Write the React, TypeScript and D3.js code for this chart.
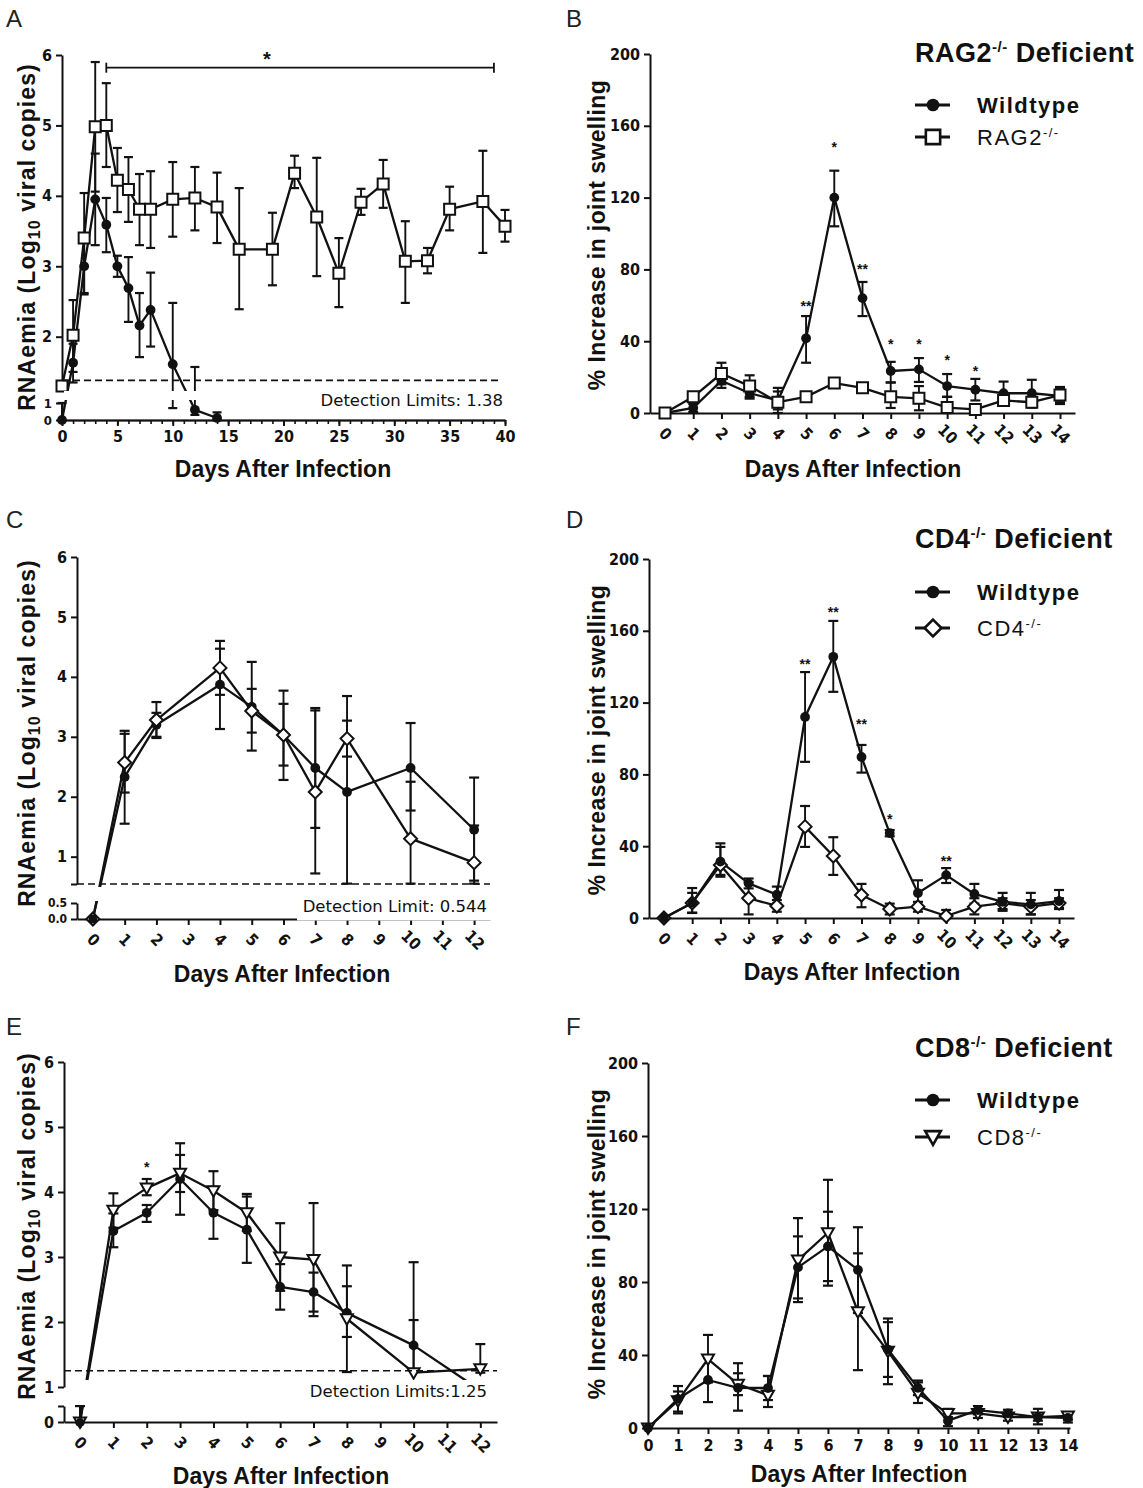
import React, { useEffect, useRef } from "react";
import * as d3 from "d3";

// ---------- A: RNAemia, RAG2-/- vs wildtype ----------
const daysA_wt = [0, 1, 2, 3, 4, 5, 6, 7, 8, 10, 12, 14];
const wtA = [0, 1.63, 3.0, 3.95, 3.59, 3.0, 2.69, 2.16, 2.38, 1.61, 0.6, 0.12];
const wtA_hi = [1.0, 1.9, 3.4, 4.6, 3.97, 3.15, 3.13, 2.62, 2.91, 2.48, 1.57, 0.45];
const wtA_lo = [0, 1.35, 2.6, 3.3, 3.2, 2.85, 2.21, 1.71, 1.86, 0.7, 0.3, 0];
const daysA_rag = [0, 1, 2, 3, 4, 5, 6, 7, 8, 10, 12, 14, 16, 19, 21, 23, 25, 27, 29, 31, 33, 35, 38, 40];
const ragA = [1.3, 2.02, 3.4, 4.98, 5.0, 4.22, 4.09, 3.81, 3.81, 3.95, 3.97, 3.84, 3.24, 3.24, 4.32, 3.7, 2.9, 3.91, 4.17, 3.07, 3.08, 3.81, 3.92, 3.57];
const ragA_hi = [1.3, 2.52, 4.04, 5.9, 5.6, 4.68, 4.55, 4.31, 4.35, 4.48, 4.41, 4.33, 4.11, 3.76, 4.57, 4.54, 3.4, 4.1, 4.51, 3.64, 3.26, 4.13, 4.64, 3.8];
const ragA_lo = [1.3, 1.5, 2.62, 4.06, 4.41, 3.77, 3.63, 3.3, 3.26, 3.42, 3.51, 3.33, 2.39, 2.73, 4.11, 2.86, 2.42, 3.73, 3.83, 2.48, 2.9, 3.51, 3.19, 3.35];
const detA = 1.38;
const sigA = [4, 39]; // bracket start / end day
const sigA_level = 5.82;

// ---------- B: joint swelling, RAG2-/- ----------
const daysSwell = [0, 1, 2, 3, 4, 5, 6, 7, 8, 9, 10, 11, 12, 13, 14];
const swellTicks = [0, 40, 80, 120, 160, 200];
const wtB = [0, 2.8, 18, 11, 7, 41.6, 120, 64, 23.4, 24.3, 15, 13, 11, 11, 9.5];
const wtB_hi = [0, 5, 22, 14, 12, 54, 135, 73, 28.5, 30.6, 21.7, 19, 17.5, 18.5, 14.5];
const wtB_lo = [0, 0.6, 14, 8, 2, 28, 104, 54, 17, 17.3, 9, 7, 5.5, 4, 5];
const ragB = [0, 9, 22, 15, 6, 9, 16.7, 14, 9, 8.2, 3, 2, 7, 6, 10];
const ragB_hi = [0, 11, 28, 21, 14, 11, 19, 15.5, 17, 15, 9, 4, 10, 9, 14];
const ragB_lo = [0, 7, 16, 9, 0, 7, 14.5, 12.5, 2.8, 1.5, 0, 0, 4, 3, 6];
const starDaysB = [5, 6, 7, 8, 9, 10, 11];
const starTextB = ["**", "*", "**", "*", "*", "*", "*"];
const starLevelB = [60, 149, 81, 39, 39, 30, 24];

// ---------- C: RNAemia, CD4-/- ----------
const daysC = [0, 1, 2, 4, 5, 6, 7, 8, 10, 12];
const tickDays12 = [0, 1, 2, 3, 4, 5, 6, 7, 8, 9, 10, 11, 12];
const wtC = [0, 2.33, 3.2, 3.87, 3.5, 3.03, 2.48, 2.08, 2.48, 1.45];
const wtC_hi = [0, 3.05, 3.4, 4.47, 4.25, 3.77, 3.48, 3.68, 3.23, 2.32];
const wtC_lo = [0, 1.55, 2.98, 3.13, 2.77, 2.28, 1.48, 0.55, 1.77, 0.6];
const cd4C = [0, 2.57, 3.28, 4.15, 3.43, 3.03, 2.08, 2.97, 1.3, 0.9];
const cd4C_hi = [0, 3.1, 3.58, 4.6, 3.8, 3.55, 3.44, 3.27, 2.25, 1.52];
const cd4C_lo = [0, 2.07, 3.0, 3.7, 3.07, 2.52, 0.72, 2.67, 0.55, 0.55];
const detC = 0.544;

// ---------- D: joint swelling, CD4-/- ----------
const wtD = [0, 8.4, 31.4, 19.3, 13, 112, 145.5, 89.7, 47.3, 13.9, 23.9, 13.4, 9, 7.6, 9.4];
const wtD_hi = [0, 16.7, 41.6, 22, 17.5, 137, 165.5, 96.4, 49, 21, 27.8, 19, 14, 14, 15.6];
const wtD_lo = [0, 2.8, 23, 16.5, 8, 87, 126, 81, 45.5, 7, 19.5, 8, 4, 2, 5.6];
const cd4D = [0, 8.4, 29.5, 11, 6.7, 50.9, 34.5, 12.8, 5, 6.3, 1.1, 6.3, 8.3, 6.3, 8.3];
const cd4D_hi = [0, 14, 39.6, 20, 10, 62.4, 45, 19, 8, 9, 4.5, 11, 11, 10, 11];
const cd4D_lo = [0, 3, 24, 2, 3.5, 39.6, 24, 6, 2, 3.5, 0, 2, 5, 2, 5];
const starDaysD = [5, 6, 7, 8, 10];
const starTextD = ["**", "**", "**", "*", "**"];
const starLevelD = [142, 171, 108.6, 55.7, 32.3];

// ---------- E: RNAemia, CD8-/- ----------
const daysE = [0, 1, 2, 3, 4, 5, 6, 7, 8, 10, 12];
const wtE = [0, 3.4, 3.68, 4.2, 3.68, 3.42, 2.54, 2.46, 2.14, 1.64, 0.95];
const wtE_hi = [0.5, 3.67, 3.8, 4.75, 4.08, 3.93, 2.89, 2.76, 2.55, 2.92, 0.95];
const wtE_lo = [0, 3.15, 3.54, 3.65, 3.28, 2.91, 2.19, 2.16, 1.77, 1.25, 0.95];
const cd8E = [0, 3.72, 4.06, 4.29, 4.02, 3.68, 3.0, 2.96, 2.05, 1.22, 1.28];
const cd8E_hi = [0.5, 3.98, 4.2, 4.57, 4.32, 3.97, 3.52, 3.83, 2.87, 2.03, 1.66];
const cd8E_lo = [0, 3.45, 3.95, 4.0, 3.72, 3.4, 2.48, 2.09, 1.23, 1.22, 1.22];
const detE = 1.25;
const starDaysE = [2];
const starLevelE = [4.4];

// ---------- F: joint swelling, CD8-/- ----------
const wtF = [0, 16, 26.3, 22, 21.9, 88, 99.5, 86.6, 43, 22, 4, 9.8, 8, 6, 5.5];
const wtF_hi = [0, 23, 38.3, 35.5, 28.5, 105, 118.5, 110, 58, 26, 8, 12, 10, 10.5, 8];
const wtF_lo = [0, 9, 14.2, 9.5, 15.3, 71, 80.5, 63, 28, 18, 1, 7.5, 6, 2, 3];
const cd8F = [0, 15, 37.8, 24, 18, 92, 107, 63.7, 42, 19, 8, 8, 6, 6, 6.6];
const cd8F_hi = [0, 20, 51, 30, 28.5, 115, 136, 95.7, 60, 25, 10.5, 10, 8, 8, 8.5];
const cd8F_lo = [0, 8, 25, 18, 11.5, 69, 78, 31.7, 24, 13.7, 6, 5.5, 4, 4, 4.5];

const W = 1143;
const H = 1488;
const INK = "#111";
const FONT = "'Liberation Sans', Arial, Helvetica, sans-serif";
const NARROW = "'Liberation Sans Narrow', 'Arial Narrow', 'DejaVu Sans Condensed', 'Liberation Sans', sans-serif";
const VERD = "'DejaVu Sans', Verdana, sans-serif";
const TICK = 16;

const zip = (days, v, hi, lo) => days.map((d, i) => ({ d, v: v[i], hi: hi[i], lo: lo[i] }));
const broken = (upper, lower, split) => (v) => (v < split ? lower(v) : upper(v));

function styleAxis(g, size = TICK, sw = 2) {
  g.attr("font-family", null).attr("font-size", null);
  g.select(".domain").attr("stroke", INK).attr("stroke-width", sw);
  g.selectAll(".tick line").attr("stroke", INK).attr("stroke-width", sw);
  g.selectAll(".tick text")
    .attr("fill", INK)
    .style("font-family", NARROW)
    .style("font-weight", "bold")
    .style("font-size", `${size}px`);
}

function yAxis(svg, scale, ax, ticks, fmt = (d) => String(d), size = TICK) {
  const g = svg
    .append("g")
    .attr("transform", `translate(${ax},0)`)
    .call(d3.axisLeft(scale).tickValues(ticks).tickSize(6).tickSizeOuter(0).tickPadding(4).tickFormat(fmt));
  styleAxis(g, size);
  return g;
}

function xAxis(svg, scale, ay, ticks, rotate) {
  const g = svg
    .append("g")
    .attr("transform", `translate(0,${ay})`)
    .call(d3.axisBottom(scale).tickValues(ticks).tickSize(6).tickSizeOuter(0).tickPadding(6));
  styleAxis(g);
  if (rotate) {
    g.selectAll(".tick text")
      .attr("y", 0)
      .attr("dy", null)
      .attr("transform", "translate(0,21) rotate(45)")
      .attr("text-anchor", "middle")
      .attr("dominant-baseline", "central");
  }
  return g;
}

function drawBars(g, pts, x, y, cap = 5) {
  pts.forEach((p) => {
    if (p.hi - p.lo < 1e-9) return;
    const cx = x(p.d);
    g.append("line")
      .attr("x1", cx).attr("x2", cx)
      .attr("y1", y(p.hi)).attr("y2", y(p.lo))
      .attr("stroke", INK).attr("stroke-width", 1.9);
    [p.hi, p.lo].forEach((v) => {
      if (v === p.v) return;
      g.append("line")
        .attr("x1", cx - cap).attr("x2", cx + cap)
        .attr("y1", y(v)).attr("y2", y(v))
        .attr("stroke", INK).attr("stroke-width", 2.2);
    });
  });
}

function drawLine(g, pts, x, y) {
  g.append("path")
    .datum(pts)
    .attr("d", d3.line().x((p) => x(p.d)).y((p) => y(p.v)))
    .attr("fill", "none")
    .attr("stroke", INK)
    .attr("stroke-width", 2.3)
    .attr("stroke-linejoin", "round");
}

function drawMarker(g, kind, cx, cy, s = 1) {
  if (kind === "circle") {
    g.append("circle").attr("cx", cx).attr("cy", cy).attr("r", 4.9 * s).attr("fill", INK);
    return;
  }
  const path =
    kind === "square"
      ? "M-5.5,-5.5H5.5V5.5H-5.5Z"
      : kind === "diamond"
      ? "M0,-6.5L6.5,0L0,6.5L-6.5,0Z"
      : "M-6,-4.5L6,-4.5L0,6Z";
  g.append("path")
    .attr("d", path)
    .attr("transform", `translate(${cx},${cy}) scale(${s})`)
    .attr("fill", "#fff")
    .attr("stroke", INK)
    .attr("stroke-width", 2);
}

function drawMarkers(g, pts, kind, x, y) {
  pts.forEach((p) => drawMarker(g, kind, x(p.d), y(p.v)));
}

function yLabelLog(svg, x, cy) {
  const t = svg
    .append("text")
    .attr("transform", `translate(${x},${cy}) rotate(-90)`)
    .attr("text-anchor", "middle")
    .attr("fill", INK)
    .style("font-family", FONT)
    .style("font-weight", "bold")
    .style("letter-spacing", "1.1px")
    .style("font-size", "23px");
  t.append("tspan").text("RNAemia (Log");
  t.append("tspan").attr("dy", 5).style("font-size", "16px").text("10");
  t.append("tspan").attr("dy", -5).text(" viral copies)");
}

function yLabelSwell(svg, x, cy) {
  svg
    .append("text")
    .attr("transform", `translate(${x},${cy}) rotate(-90)`)
    .attr("text-anchor", "middle")
    .attr("fill", INK)
    .style("font-family", FONT)
    .style("font-weight", "bold")
    .style("letter-spacing", "0.4px")
    .style("font-size", "23px")
    .text("% Increase in joint swelling");
}

function xLabel(svg, cx, y) {
  svg
    .append("text")
    .attr("x", cx)
    .attr("y", y)
    .attr("text-anchor", "middle")
    .attr("fill", INK)
    .style("font-family", FONT)
    .style("font-weight", "bold")
    .style("font-size", "23px")
    .text("Days After Infection");
}

function panelLetter(svg, x, y, s) {
  svg
    .append("text")
    .attr("x", x)
    .attr("y", y)
    .attr("fill", "#222")
    .style("font-family", FONT)
    .style("font-size", "24px")
    .text(s);
}

function dashed(svg, x1, x2, y) {
  svg
    .append("line")
    .attr("x1", x1).attr("x2", x2)
    .attr("y1", y).attr("y2", y)
    .attr("stroke", INK)
    .attr("stroke-width", 1.7)
    .attr("stroke-dasharray", "7,4");
}

function detText(svg, xr, y, s) {
  svg
    .append("text")
    .attr("x", xr)
    .attr("y", y)
    .attr("text-anchor", "end")
    .attr("fill", INK)
    .style("font-family", VERD)
    .style("font-size", "16.5px")
    .text(s);
}

function stars(svg, days, texts, levels, x, y) {
  days.forEach((d, i) => {
    svg
      .append("text")
      .attr("x", x(d))
      .attr("y", y(levels[i]) + 6)
      .attr("text-anchor", "middle")
      .attr("fill", INK)
      .style("font-family", FONT)
      .style("font-weight", "bold")
      .style("font-size", "14px")
      .text(texts[i]);
  });
}

function withSup(t, base, sup, rest, supSize, lift) {
  t.append("tspan").text(base);
  t.append("tspan").attr("dy", -lift).style("font-size", `${supSize}px`).text(sup);
  if (rest) t.append("tspan").attr("dy", lift).text(rest);
}

function legend(svg, gene, kind, titleY, rowY) {
  const x0 = 915;
  const title = svg
    .append("text")
    .attr("x", x0)
    .attr("y", titleY)
    .attr("fill", INK)
    .style("font-family", FONT)
    .style("font-weight", "bold")
    .style("letter-spacing", "0.5px")
    .style("font-size", "27px");
  withSup(title, gene, "-/-", " Deficient", 15, 10);

  const rows = [
    { kind: "circle", label: "Wildtype", bold: true },
    { kind, label: gene, bold: false },
  ];
  rows.forEach((r, i) => {
    const yy = rowY[i];
    svg.append("line")
      .attr("x1", x0).attr("x2", x0 + 35)
      .attr("y1", yy).attr("y2", yy)
      .attr("stroke", INK).attr("stroke-width", 3);
    drawMarker(svg, r.kind, x0 + 18, yy, 1.3);
    const t = svg
      .append("text")
      .attr("x", 977)
      .attr("y", yy + 8)
      .attr("fill", INK)
      .style("font-family", FONT)
      .style("font-weight", r.bold ? "bold" : "normal")
      .style("letter-spacing", "1.5px")
      .style("font-size", "22px");
    if (r.bold) t.text(r.label);
    else withSup(t, r.label, "-/-", "", 13, 8);
  });
}

function drawA(svg) {
  const x = d3.scaleLinear().domain([0, 40]).range([62, 505]);
  const yUp = d3.scaleLinear().domain([1.3, 6]).range([386, 55]);
  const yLo = d3.scaleLinear().domain([0, 1]).range([420, 403]);
  const y = broken(yUp, yLo, 1.15);

  yAxis(svg, yUp, 62, [2, 3, 4, 5, 6]);
  yAxis(svg, yLo, 62, [0, 1], (d) => String(d), 13);
  const minor = svg.append("g").attr("transform", "translate(0,420)")
    .call(d3.axisBottom(x).tickValues(d3.range(0, 41)).tickSize(4).tickSizeOuter(0).tickFormat(() => ""));
  styleAxis(minor, 12, 1.6);
  const major = svg.append("g").attr("transform", "translate(0,420)")
    .call(d3.axisBottom(x).tickValues(d3.range(0, 41, 5)).tickSize(6).tickSizeOuter(0).tickPadding(5));
  styleAxis(major);

  const g = svg.append("g");
  const wt = zip(daysA_wt, wtA, wtA_hi, wtA_lo);
  const rag = zip(daysA_rag, ragA, ragA_hi, ragA_lo);
  drawBars(g, wt, x, y, 4.5);
  drawBars(g, rag, x, y, 4.5);
  drawLine(g, wt, x, y);
  drawLine(g, rag, x, y);
  drawMarkers(g, wt, "circle", x, y);
  drawMarkers(g, rag, "square", x, y);
  svg.append("rect").attr("x", 64).attr("y", 391).attr("width", 450).attr("height", 9).attr("fill", "#fff");

  dashed(svg, 62, 500, y(detA));
  detText(svg, 503, 406, `Detection Limits: ${detA}`);

  const by = y(sigA_level);
  svg.append("line").attr("x1", x(sigA[0])).attr("x2", x(sigA[1])).attr("y1", by).attr("y2", by)
    .attr("stroke", INK).attr("stroke-width", 1.8);
  sigA.forEach((d) => {
    svg.append("line").attr("x1", x(d)).attr("x2", x(d)).attr("y1", by - 5).attr("y2", by + 5)
      .attr("stroke", INK).attr("stroke-width", 1.8);
  });
  svg.append("text").attr("x", x(18.5)).attr("y", by - 2).attr("text-anchor", "middle")
    .attr("fill", INK).style("font-family", FONT).style("font-weight", "bold").style("font-size", "20px").text("*");

  yLabelLog(svg, 35, 237);
  xLabel(svg, 283, 477);
  panelLetter(svg, 6, 27, "A");
}

function drawB(svg) {
  const x = d3.scaleLinear().domain([-0.532, 14.532]).range([650, 1075]);
  const y = d3.scaleLinear().domain([0, 200]).range([413, 54]);
  yAxis(svg, y, 650, swellTicks);
  xAxis(svg, x, 413, daysSwell, true);
  const g = svg.append("g");
  const wt = zip(daysSwell, wtB, wtB_hi, wtB_lo);
  const rag = zip(daysSwell, ragB, ragB_hi, ragB_lo);
  drawBars(g, wt, x, y);
  drawBars(g, rag, x, y);
  drawLine(g, wt, x, y);
  drawLine(g, rag, x, y);
  drawMarkers(g, wt, "circle", x, y);
  drawMarkers(g, rag, "square", x, y);
  stars(svg, starDaysB, starTextB, starLevelB, x, y);
  yLabelSwell(svg, 605, 235);
  xLabel(svg, 853, 477);
  legend(svg, "RAG2", "square", 62, [105, 137]);
  panelLetter(svg, 566, 27, "B");
}

function drawC(svg) {
  const x = d3.scaleLinear().domain([-0.5, 12.5]).range([77, 490]);
  const yUp = d3.scaleLinear().domain([detC, 6]).range([884, 557]);
  const yLo = d3.scaleLinear().domain([0, 0.5]).range([919, 903]);
  const y = broken(yUp, yLo, 0.52);
  yAxis(svg, yUp, 77, [detC, 1, 2, 3, 4, 5, 6], (d) => (d === detC ? "" : String(d)));
  yAxis(svg, yLo, 77, [0, 0.5], d3.format(".1f"), 12);
  xAxis(svg, x, 919, tickDays12, true);

  const g = svg.append("g");
  const wt = zip(daysC, wtC, wtC_hi, wtC_lo);
  const cd4 = zip(daysC, cd4C, cd4C_hi, cd4C_lo);
  drawBars(g, wt, x, y);
  drawBars(g, cd4, x, y);
  drawLine(g, wt, x, y);
  drawLine(g, cd4, x, y);
  drawMarkers(g, wt, "circle", x, y);
  drawMarkers(g, cd4, "diamond", x, y);
  drawMarker(g, "circle", x(daysC[0]), y(wtC[0]), 0.9);
  svg.append("rect").attr("x", 79).attr("y", 887).attr("width", 420).attr("height", 14).attr("fill", "#fff");

  dashed(svg, 77, 490, y(detC));
  svg.append("rect").attr("x", 297).attr("y", 893).attr("width", 196).attr("height", 27.5).attr("fill", "#fff");
  detText(svg, 487, 912, `Detection Limit: ${detC}`);

  yLabelLog(svg, 35, 733);
  xLabel(svg, 282, 982);
  panelLetter(svg, 6, 528, "C");
}

function drawD(svg) {
  const x = d3.scaleLinear().domain([-0.53, 14.53]).range([649, 1074]);
  const y = d3.scaleLinear().domain([0, 200]).range([918, 559]);
  yAxis(svg, y, 649, swellTicks);
  xAxis(svg, x, 918, daysSwell, true);
  const g = svg.append("g");
  const wt = zip(daysSwell, wtD, wtD_hi, wtD_lo);
  const cd4 = zip(daysSwell, cd4D, cd4D_hi, cd4D_lo);
  drawBars(g, wt, x, y);
  drawBars(g, cd4, x, y);
  drawLine(g, wt, x, y);
  drawLine(g, cd4, x, y);
  drawMarkers(g, cd4, "diamond", x, y);
  drawMarkers(g, wt, "circle", x, y);
  stars(svg, starDaysD, starTextD, starLevelD, x, y);
  yLabelSwell(svg, 605, 740);
  xLabel(svg, 852, 980);
  legend(svg, "CD4", "diamond", 548, [592, 628]);
  panelLetter(svg, 566, 528, "D");
}

function drawE(svg) {
  const x = d3.scaleLinear().domain([-0.48, 12.5]).range([64, 497]);
  const yUp = d3.scaleLinear().domain([1, 6]).range([1387, 1062]);
  const yLo = d3.scaleLinear().domain([0, 0.5]).range([1422, 1406]);
  const y = broken(yUp, yLo, 0.75);
  yAxis(svg, yUp, 64, [1, 2, 3, 4, 5, 6]);
  yAxis(svg, yLo, 64, [0, 0.5], (d) => (d === 0 ? "0" : ""));
  xAxis(svg, x, 1422, tickDays12, true);

  const g = svg.append("g");
  const wt = zip(daysE, wtE, wtE_hi, wtE_lo);
  const cd8 = zip(daysE, cd8E, cd8E_hi, cd8E_lo);
  drawBars(g, wt, x, y);
  drawBars(g, cd8, x, y);
  drawLine(g, wt, x, y);
  drawLine(g, cd8, x, y);
  drawMarkers(g, wt, "circle", x, y);
  drawMarkers(g, cd8, "tri", x, y);
  drawMarker(g, "circle", x(daysE[0]), y(wtE[0]), 0.8);
  svg.append("rect").attr("x", 66).attr("y", 1380).attr("width", 440).attr("height", 25).attr("fill", "#fff");

  dashed(svg, 64, 497, y(detE));
  detText(svg, 487, 1397, `Detection Limits:${detE}`);
  stars(svg, starDaysE, ["*"], starLevelE, x, y);

  yLabelLog(svg, 35, 1226);
  xLabel(svg, 281, 1484);
  panelLetter(svg, 6, 1035, "E");
}

function drawF(svg) {
  const x = d3.scaleLinear().domain([0, 14.07]).range([648, 1070]);
  const y = d3.scaleLinear().domain([0, 200]).range([1428, 1063]);
  yAxis(svg, y, 648, swellTicks);
  xAxis(svg, x, 1428, daysSwell, false);
  const g = svg.append("g");
  const wt = zip(daysSwell, wtF, wtF_hi, wtF_lo);
  const cd8 = zip(daysSwell, cd8F, cd8F_hi, cd8F_lo);
  drawBars(g, wt, x, y);
  drawBars(g, cd8, x, y);
  drawLine(g, wt, x, y);
  drawLine(g, cd8, x, y);
  drawMarkers(g, cd8, "tri", x, y);
  drawMarkers(g, wt, "circle", x, y);
  yLabelSwell(svg, 605, 1244);
  xLabel(svg, 859, 1482);
  legend(svg, "CD8", "tri", 1057, [1100, 1137]);
  panelLetter(svg, 566, 1035, "F");
}

export default function App() {
  const ref = useRef(null);

  useEffect(() => {
    const svg = d3.select(ref.current);
    svg.selectAll("*").remove();
    drawA(svg);
    drawB(svg);
    drawC(svg);
    drawD(svg);
    drawE(svg);
    drawF(svg);
  }, []);

  return (
    <svg
      ref={ref}
      width={W}
      height={H}
      style={{ position: "absolute", left: 0, top: 0, background: "#fff" }}
    />
  );
}
